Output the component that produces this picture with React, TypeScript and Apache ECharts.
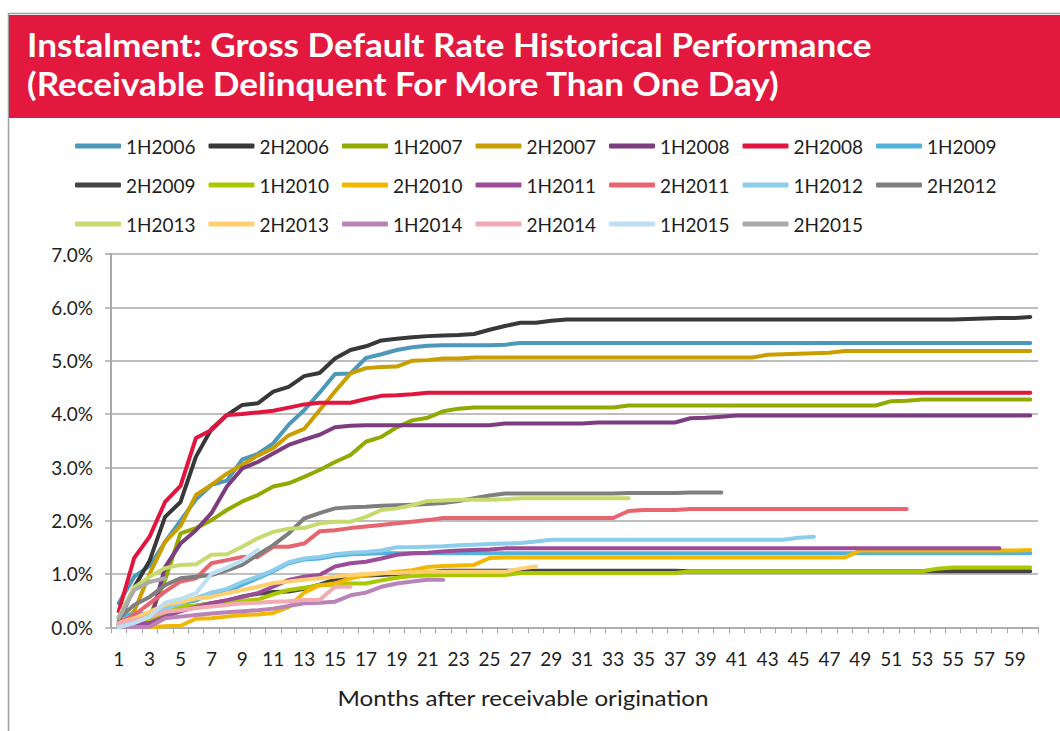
import React, { useEffect, useRef } from "react";
import * as echarts from "echarts";

const months = [
  "1","2","3","4","5","6","7","8","9","10","11","12","13","14","15","16","17","18","19","20",
  "21","22","23","24","25","26","27","28","29","30","31","32","33","34","35","36","37","38","39","40",
  "41","42","43","44","45","46","47","48","49","50","51","52","53","54","55","56","57","58","59","60",
];

const yTicks = [0, 1, 2, 3, 4, 5, 6, 7];

const v1H2006 = [
  0.45, 0.95, 1.15, 1.6, 2.0, 2.4, 2.67, 2.75, 3.15, 3.25,
  3.45, 3.8, 4.07, 4.4, 4.75, 4.76, 5.05, 5.12, 5.2, 5.25,
  5.28, 5.29, 5.29, 5.29, 5.29, 5.3, 5.33, 5.33, 5.33, 5.33,
  5.33, 5.33, 5.33, 5.33, 5.33, 5.33, 5.33, 5.33, 5.33, 5.33,
  5.33, 5.33, 5.33, 5.33, 5.33, 5.33, 5.33, 5.33, 5.33, 5.33,
  5.33, 5.33, 5.33, 5.33, 5.33, 5.33, 5.33, 5.33, 5.33, 5.33,
];
const v2H2006 = [
  0.1, 0.75, 1.25, 2.07, 2.35, 3.2, 3.72, 3.98, 4.17, 4.2,
  4.42, 4.51, 4.71, 4.77, 5.04, 5.2, 5.27, 5.38, 5.41, 5.44,
  5.46, 5.47, 5.48, 5.5, 5.58, 5.65, 5.71, 5.71, 5.75, 5.77,
  5.77, 5.77, 5.77, 5.77, 5.77, 5.77, 5.77, 5.77, 5.77, 5.77,
  5.77, 5.77, 5.77, 5.77, 5.77, 5.77, 5.77, 5.77, 5.77, 5.77,
  5.77, 5.77, 5.77, 5.77, 5.77, 5.78, 5.79, 5.8, 5.8, 5.82,
];
const v1H2007 = [
  0.05, 0.12, 0.2, 0.89, 1.76, 1.86, 2.01, 2.2, 2.36, 2.48,
  2.64, 2.7, 2.82, 2.95, 3.1, 3.23, 3.48, 3.57, 3.75, 3.88,
  3.93, 4.05, 4.1, 4.12, 4.12, 4.12, 4.12, 4.12, 4.12, 4.12,
  4.12, 4.12, 4.12, 4.16, 4.16, 4.16, 4.16, 4.16, 4.16, 4.16,
  4.16, 4.16, 4.16, 4.16, 4.16, 4.16, 4.16, 4.16, 4.16, 4.16,
  4.24, 4.25, 4.27, 4.27, 4.27, 4.27, 4.27, 4.27, 4.27, 4.27,
];
const v2H2007 = [
  0.05, 0.3, 1.0, 1.6, 1.9, 2.48, 2.67, 2.88, 3.05, 3.22,
  3.36, 3.6, 3.72, 4.07, 4.42, 4.76, 4.86, 4.88, 4.89, 5.0,
  5.01, 5.04, 5.04, 5.06, 5.06, 5.06, 5.06, 5.06, 5.06, 5.06,
  5.06, 5.06, 5.06, 5.06, 5.06, 5.06, 5.06, 5.06, 5.06, 5.06,
  5.06, 5.06, 5.11, 5.12, 5.13, 5.14, 5.15, 5.18, 5.18, 5.18,
  5.18, 5.18, 5.18, 5.18, 5.18, 5.18, 5.18, 5.18, 5.18, 5.18,
];
const v1H2008 = [
  0.0, 0.02, 0.05, 1.13, 1.57, 1.82, 2.14, 2.64, 2.98, 3.1,
  3.26, 3.42, 3.52, 3.61, 3.75, 3.78, 3.79, 3.79, 3.79, 3.79,
  3.79, 3.79, 3.79, 3.79, 3.79, 3.82, 3.82, 3.82, 3.82, 3.82,
  3.82, 3.84, 3.84, 3.84, 3.84, 3.84, 3.84, 3.92, 3.93, 3.95,
  3.97, 3.97, 3.97, 3.97, 3.97, 3.97, 3.97, 3.97, 3.97, 3.97,
  3.97, 3.97, 3.97, 3.97, 3.97, 3.97, 3.97, 3.97, 3.97, 3.97,
];
const v2H2008 = [
  0.3, 1.3, 1.7, 2.35, 2.65, 3.55, 3.7, 3.98, 4.0, 4.03,
  4.06, 4.12, 4.18, 4.21, 4.21, 4.21, 4.28, 4.34, 4.35, 4.37,
  4.4, 4.4, 4.4, 4.4, 4.4, 4.4, 4.4, 4.4, 4.4, 4.4,
  4.4, 4.4, 4.4, 4.4, 4.4, 4.4, 4.4, 4.4, 4.4, 4.4,
  4.4, 4.4, 4.4, 4.4, 4.4, 4.4, 4.4, 4.4, 4.4, 4.4,
  4.4, 4.4, 4.4, 4.4, 4.4, 4.4, 4.4, 4.4, 4.4, 4.4,
];
const v1H2009 = [
  0.2, 0.25, 0.26, 0.4, 0.45, 0.5, 0.65, 0.67, 0.8, 0.92,
  1.05, 1.2, 1.27, 1.29, 1.34, 1.37, 1.38, 1.39, 1.39, 1.39,
  1.39, 1.39, 1.39, 1.39, 1.39, 1.39, 1.39, 1.39, 1.39, 1.39,
  1.39, 1.39, 1.39, 1.39, 1.39, 1.39, 1.39, 1.39, 1.39, 1.39,
  1.39, 1.39, 1.39, 1.39, 1.39, 1.39, 1.39, 1.39, 1.39, 1.39,
  1.39, 1.39, 1.39, 1.39, 1.39, 1.39, 1.39, 1.39, 1.39, 1.39,
];
const v2H2009 = [
  0.05, 0.1, 0.15, 0.25, 0.32, 0.4, 0.45, 0.5, 0.58, 0.63,
  0.66, 0.67, 0.72, 0.8, 0.9, 0.95, 0.97, 0.98, 1.0, 1.02,
  1.03, 1.06, 1.06, 1.06, 1.06, 1.06, 1.06, 1.06, 1.06, 1.06,
  1.06, 1.06, 1.06, 1.06, 1.06, 1.06, 1.06, 1.05, 1.05, 1.05,
  1.05, 1.05, 1.05, 1.05, 1.05, 1.05, 1.05, 1.05, 1.05, 1.05,
  1.05, 1.05, 1.05, 1.05, 1.05, 1.05, 1.05, 1.05, 1.05, 1.05,
];
const v1H2010 = [
  0.04, 0.14, 0.14, 0.26, 0.39, 0.41, 0.45, 0.47, 0.5, 0.52,
  0.62, 0.7, 0.74, 0.79, 0.8, 0.82, 0.82, 0.88, 0.93, 0.96,
  0.97, 0.98, 0.98, 0.98, 0.98, 0.98, 1.02, 1.02, 1.02, 1.02,
  1.02, 1.02, 1.02, 1.02, 1.02, 1.02, 1.02, 1.05, 1.05, 1.05,
  1.05, 1.05, 1.05, 1.05, 1.05, 1.05, 1.05, 1.05, 1.05, 1.05,
  1.05, 1.05, 1.05, 1.1, 1.12, 1.12, 1.12, 1.12, 1.12, 1.12,
];
const v2H2010 = [
  0.0, 0.0, 0.0, 0.02, 0.03, 0.16, 0.17, 0.2, 0.23, 0.24,
  0.27, 0.38, 0.65, 0.79, 0.82, 0.92, 0.98, 1.01, 1.04, 1.07,
  1.13, 1.15, 1.16, 1.17, 1.3, 1.31, 1.31, 1.31, 1.31, 1.31,
  1.31, 1.31, 1.31, 1.31, 1.31, 1.31, 1.31, 1.31, 1.31, 1.31,
  1.31, 1.31, 1.31, 1.31, 1.31, 1.31, 1.31, 1.31, 1.44, 1.44,
  1.44, 1.44, 1.44, 1.44, 1.44, 1.44, 1.44, 1.44, 1.44, 1.45,
];
const v1H2011 = [
  0.02, 0.05, 0.08, 0.2, 0.3, 0.38, 0.45, 0.51, 0.57, 0.64,
  0.76, 0.89, 0.95, 0.98, 1.14, 1.2, 1.23, 1.29, 1.36, 1.39,
  1.4, 1.42, 1.44, 1.45, 1.46, 1.48, 1.48, 1.48, 1.48, 1.48,
  1.48, 1.48, 1.48, 1.48, 1.48, 1.48, 1.48, 1.48, 1.48, 1.48,
  1.48, 1.48, 1.48, 1.48, 1.48, 1.48, 1.48, 1.48, 1.48, 1.48,
  1.48, 1.48, 1.48, 1.48, 1.48, 1.48, 1.48, 1.48,
];
const v2H2011 = [
  0.08, 0.23, 0.45, 0.67, 0.86, 0.92, 1.2, 1.26, 1.32, 1.32,
  1.51, 1.51, 1.57, 1.8, 1.82, 1.86, 1.89, 1.92, 1.95, 1.98,
  2.01, 2.05, 2.05, 2.05, 2.05, 2.05, 2.05, 2.05, 2.05, 2.05,
  2.05, 2.05, 2.05, 2.18, 2.2, 2.2, 2.2, 2.22, 2.22, 2.22,
  2.22, 2.22, 2.22, 2.22, 2.22, 2.22, 2.22, 2.22, 2.22, 2.22,
  2.22, 2.22,
];
const v1H2012 = [
  0.05, 0.1, 0.2, 0.35, 0.45, 0.55, 0.65, 0.72, 0.85, 0.95,
  1.07, 1.22, 1.29, 1.32, 1.37, 1.4, 1.41, 1.44, 1.5, 1.5,
  1.51, 1.52, 1.54, 1.55, 1.56, 1.57, 1.58, 1.61, 1.64, 1.64,
  1.64, 1.64, 1.64, 1.64, 1.64, 1.64, 1.64, 1.64, 1.64, 1.64,
  1.64, 1.64, 1.64, 1.64, 1.68, 1.7,
];
const v2H2012 = [
  0.17, 0.42, 0.57, 0.79, 0.92, 0.95, 0.98, 1.07, 1.17, 1.36,
  1.54, 1.76, 2.04, 2.14, 2.23, 2.25, 2.26, 2.28, 2.29, 2.3,
  2.31, 2.33, 2.37, 2.42, 2.47, 2.51, 2.51, 2.51, 2.51, 2.51,
  2.51, 2.51, 2.51, 2.52, 2.52, 2.52, 2.52, 2.53, 2.53, 2.53,
];
const v1H2013 = [
  0.2, 0.75, 0.95, 1.11, 1.17, 1.18, 1.36, 1.37, 1.51, 1.67,
  1.79, 1.85, 1.86, 1.95, 1.98, 1.98, 2.07, 2.2, 2.23, 2.29,
  2.37, 2.38, 2.39, 2.39, 2.39, 2.4, 2.42, 2.42, 2.42, 2.42,
  2.42, 2.42, 2.42, 2.42,
];
const v2H2013 = [
  0.08, 0.17, 0.29, 0.42, 0.48, 0.54, 0.57, 0.64, 0.7, 0.76,
  0.83, 0.86, 0.89, 0.92, 0.95, 0.98, 1.0, 1.02, 1.02, 1.03,
  1.04, 1.04, 1.04, 1.04, 1.04, 1.04, 1.1, 1.14,
];
const v1H2014 = [
  0.0, 0.0, 0.01, 0.17, 0.2, 0.23, 0.26, 0.28, 0.3, 0.32,
  0.35, 0.4, 0.45, 0.46, 0.48, 0.6, 0.65, 0.76, 0.82, 0.86,
  0.89, 0.89,
];
const v2H2014 = [
  0.08, 0.14, 0.2, 0.29, 0.32, 0.36, 0.39, 0.42, 0.45, 0.46,
  0.48, 0.49, 0.51, 0.51, 0.76, 0.76,
];
const v1H2015 = [0.0, 0.08, 0.2, 0.46, 0.53, 0.64, 1.0, 1.12, 1.25, 1.45];
const v2H2015 = [0.17, 0.7, 0.85, 0.92];

const seriesNames = [
  "1H2006", "2H2006", "1H2007", "2H2007", "1H2008", "2H2008", "1H2009",
  "2H2009", "1H2010", "2H2010", "1H2011", "2H2011", "1H2012", "2H2012",
  "1H2013", "2H2013", "1H2014", "2H2014", "1H2015", "2H2015",
];
const seriesValues = [
  v1H2006, v2H2006, v1H2007, v2H2007, v1H2008, v2H2008, v1H2009,
  v2H2009, v1H2010, v2H2010, v1H2011, v2H2011, v1H2012, v2H2012,
  v1H2013, v2H2013, v1H2014, v2H2014, v1H2015, v2H2015,
];
const seriesColors = [
  "#4C98BB", "#383838", "#92AA00", "#CB9E00", "#7D3C80", "#E1153D", "#52B2DE",
  "#444444", "#ABC700", "#F2B700", "#9D4C99", "#E8646F", "#8CCDEC", "#7F7F7F",
  "#C6DB6E", "#FFCF70", "#B983B7", "#F2ABB2", "#BEDFF2", "#AAAAAA",
];

const titleLine1 = "Instalment: Gross Default Rate Historical Performance";
const titleLine2 = "(Receivable Delinquent For More Than One Day)";
const xAxisTitle = "Months after receivable origination";

const FONT = "Lato, 'Open Sans', sans-serif";
const TEXT_COLOR = "#1E1E1E";
const GRID_COLOR = "#A8A8A8";

function measure(text: string, font: string): number {
  try {
    const c = document.createElement("canvas");
    const ctx = c.getContext("2d");
    if (!ctx) return 0;
    ctx.font = font;
    return ctx.measureText(text).width;
  } catch (e) {
    return 0;
  }
}

export default function App() {
  const ref = useRef<HTMLDivElement>(null);

  useEffect(() => {
    if (!ref.current) return;
    const chart = echarts.init(ref.current, undefined, { renderer: "svg" });

    const titleSize = 32;
    const w1 = measure(titleLine1, `bold ${titleSize}px Lato`);
    const titleScale = w1 > 0 ? 845 / w1 : 1;

    const nameSize = 22;
    const wn = measure(xAxisTitle, `${nameSize}px Lato`);
    const nameScale = wn > 0 ? 372 / wn : 1;

    const legendRow = (names: string[], top: number) => ({
      data: names,
      left: 75,
      top,
      padding: 0,
      orient: "horizontal",
      icon: "roundRect",
      itemWidth: 46,
      itemHeight: 5,
      itemGap: 12.5,
      selectedMode: false,
      textStyle: {
        fontFamily: FONT,
        fontSize: 19,
        color: TEXT_COLOR,
        width: 70,
        lineHeight: 20,
      },
    });

    const option: any = {
      animation: false,
      backgroundColor: "#FFFFFF",
      graphic: [
        {
          type: "rect",
          shape: { x: 8.5, y: 13.5, width: 1060, height: 730 },
          style: { fill: "none", stroke: "#A0A0A0", lineWidth: 1.5 },
          silent: true,
        },
        {
          type: "rect",
          shape: { x: 9, y: 15, width: 1051, height: 103 },
          style: { fill: "#E2183F" },
          silent: true,
        },
        {
          type: "text",
          x: 27,
          y: 45,
          scaleX: titleScale,
          style: {
            text: titleLine1,
            fontFamily: "Lato",
            fontWeight: "bold",
            fontSize: titleSize,
            fill: "#FFFFFF",
            verticalAlign: "middle",
          },
          silent: true,
        },
        {
          type: "text",
          x: 27,
          y: 84,
          scaleX: titleScale,
          style: {
            text: titleLine2,
            fontFamily: "Lato",
            fontWeight: "bold",
            fontSize: titleSize,
            fill: "#FFFFFF",
            verticalAlign: "middle",
          },
          silent: true,
        },
        {
          type: "text",
          x: 523,
          y: 697,
          scaleX: nameScale,
          style: {
            text: xAxisTitle,
            fontFamily: "Lato",
            fontSize: nameSize,
            fill: TEXT_COLOR,
            align: "center",
            verticalAlign: "middle",
          },
          silent: true,
        },
      ],
      legend: [
        legendRow(seriesNames.slice(0, 7), 136),
        legendRow(seriesNames.slice(7, 14), 175),
        legendRow(seriesNames.slice(14, 20), 214),
      ],
      grid: { left: 111, top: 254, width: 927, height: 373.3 },
      xAxis: {
        type: "category",
        data: months,
        boundaryGap: true,
        axisLine: { show: true, lineStyle: { color: GRID_COLOR, width: 1.5 } },
        axisTick: { show: true, interval: 0, length: 6, lineStyle: { color: GRID_COLOR, width: 1 } },
        axisLabel: {
          interval: 1,
          margin: 22,
          fontFamily: FONT,
          fontSize: 19,
          color: TEXT_COLOR,
        },
        splitLine: { show: false },
      },
      yAxis: {
        type: "value",
        min: yTicks[0],
        max: yTicks[yTicks.length - 1],
        interval: 1,
        axisLine: { show: true, lineStyle: { color: GRID_COLOR, width: 2 } },
        axisTick: { show: true, length: 6, lineStyle: { color: GRID_COLOR, width: 1.5 } },
        axisLabel: {
          margin: 18,
          fontFamily: FONT,
          fontSize: 19,
          color: TEXT_COLOR,
          formatter: (v: number) => v.toFixed(1) + "%",
        },
        splitLine: { show: true, lineStyle: { color: GRID_COLOR, width: 1.5 } },
      },
      series: seriesNames.map((name, i) => ({
        name,
        type: "line",
        data: seriesValues[i],
        symbol: "none",
        showSymbol: false,
        silent: true,
        color: seriesColors[i],
        lineStyle: { width: 4, color: seriesColors[i], cap: "round", join: "round" },
        emphasis: { disabled: true },
      })),
    };

    chart.setOption(option);
    return () => chart.dispose();
  }, []);

  return (
    <div
      ref={ref}
      style={{ position: "absolute", left: 0, top: 0, width: 1060, height: 731, background: "#FFFFFF" }}
    />
  );
}
